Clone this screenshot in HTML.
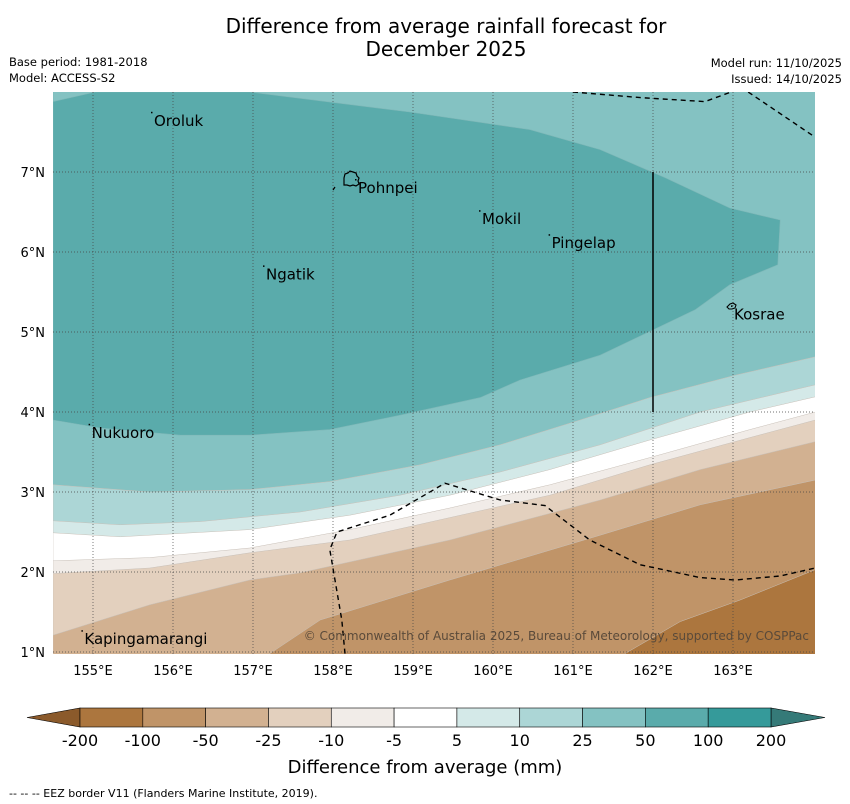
<!DOCTYPE html>
<html><head><meta charset="utf-8"><style>
body{margin:0;background:#fff;}
svg{display:block;font-family:"DejaVu Sans","Liberation Sans",sans-serif;}
</style></head><body>
<svg id="chart" width="850" height="804" xmlns="http://www.w3.org/2000/svg">
<text x="446" y="33" font-size="20" text-anchor="middle">Difference from average rainfall forecast for</text>
<text x="446" y="56" font-size="20" text-anchor="middle">December 2025</text>
<text x="9" y="66" font-size="11.5">Base period: 1981-2018</text>
<text x="9" y="82" font-size="11.5">Model: ACCESS-S2</text>
<text x="842" y="67" font-size="11.5" text-anchor="end">Model run: 11/10/2025</text>
<text x="842" y="83" font-size="11.5" text-anchor="end">Issued: 14/10/2025</text>
<defs><clipPath id="pc"><rect x="53" y="92" width="762" height="562"/></clipPath></defs>
<g id="map" clip-path="url(#pc)"></g>
<g id="over"></g>
<g id="cbar"></g>
<text x="425" y="773" font-size="18" text-anchor="middle">Difference from average (mm)</text>
<text x="9" y="797" font-size="11">--  --  -- EEZ border V11 (Flanders Marine Institute, 2019).</text>
</svg>
<script>
const lonTicks=[155,156,157,158,159,160,161,162,163];
const latTicks=[1,2,3,4,5,6,7];
const levelLabels=["-200","-100","-50","-25","-10","-5","5","10","25","50","100","200"];
const levelColors=["#ac763e","#c09468","#d2b191","#e3d0be","#f1ece8","#ffffff","#d4e9e8","#acd6d6","#84c2c2","#5aabab","#359a9a"];
const blob50=[[154.5,7.88],[155.03,8.0],[156.96,8.0],[158.96,7.75],[160.46,7.53],[161.34,7.28],[162.15,6.93],[162.96,6.55],[163.59,6.4],[163.56,5.84],[162.96,5.59],[162.53,5.28],[161.34,4.71],[160.34,4.4],[159.84,4.18],[158.84,3.96],[157.96,3.78],[156.96,3.71],[156.09,3.71],[155.09,3.8],[154.5,3.9]];
const b25=[[154.5,3.09],[155.71,3.0],[156.96,3.03],[157.96,3.13],[159.09,3.34],[160.09,3.59],[161.09,3.9],[161.96,4.18],[163.03,4.46],[164.03,4.69]];
const b10=[[154.5,2.64],[155.34,2.59],[156.34,2.63],[157.59,2.75],[158.84,2.96],[160.09,3.25],[161.34,3.59],[162.59,4.0],[164.03,4.34]];
const b5=[[154.5,2.49],[155.34,2.44],[156.96,2.53],[158.21,2.71],[159.46,2.96],[160.71,3.28],[161.96,3.65],[163.21,4.0],[164.03,4.19]];
const bm5=[[154.5,2.14],[155.71,2.18],[156.96,2.3],[158.21,2.53],[159.46,2.8],[160.71,3.09],[161.96,3.43],[163.21,3.78],[164.03,4.0]];
const bm10=[[154.5,1.98],[155.71,2.05],[156.96,2.24],[158.21,2.4],[159.46,2.68],[160.71,2.96],[161.96,3.34],[163.21,3.68],[164.03,3.9]];
const bm25=[[154.5,1.21],[155.71,1.59],[156.96,1.9],[157.59,1.99],[159.46,2.4],[161.34,2.9],[162.59,3.28],[164.03,3.63]];
const bm50=[[157.21,0.98],[157.84,1.4],[159.46,1.9],[161.34,2.46],[162.59,2.84],[164.03,3.15]];
const bm100=[[161.65,0.98],[162.34,1.38],[163.09,1.65],[164.03,2.03]];
const eezA=[[161.0,8.0],[161.84,7.93],[162.65,7.88],[163.03,8.02]];
const eezB=[[163.19,8.0],[163.99,7.46]];
const eezC=[[158.15,0.98],[158.11,1.4],[157.96,2.28],[158.05,2.5],[158.71,2.71],[159.4,3.11],[160.09,2.9],[160.65,2.83],[161.21,2.4],[161.84,2.09],[162.59,1.93],[163.03,1.9],[163.59,1.95],[164.03,2.05]];
const places=[["Oroluk",155.75,7.74],["Pohnpei",158.3,6.9],["Mokil",159.85,6.51],["Pingelap",160.72,6.21],["Ngatik",157.15,5.82],["Kosrae",163.0,5.32],["Nukuoro",154.97,3.84],["Kapingamarangi",154.88,1.26]];
const X=lon=>93+(lon-155)*80;
const Y=lat=>172+(7-lat)*80;
const NS="http://www.w3.org/2000/svg";
const map=document.getElementById('map'),over=document.getElementById('over'),cb=document.getElementById('cbar');
function mk(tag,attrs,parent){const e=document.createElementNS(NS,tag);for(const k in attrs)e.setAttribute(k,attrs[k]);parent.appendChild(e);return e;}
const pts=a=>a.map(p=>X(p[0]).toFixed(1)+","+Y(p[1]).toFixed(1)).join(" ");
let r=mk('rect',{x:53,y:92,width:762,height:562,fill:levelColors[8]},map);


let bl=mk('polygon',{points:pts(blob50)+" 53,92",fill:levelColors[9],stroke:"#7fb8b8","stroke-width":0.6},map);


const bands=[[b25,7,'band-10-25'],[b10,6,'band-5-10'],[b5,5,'band-neutral'],[bm5,4,'band-minus5-minus10'],[bm10,3,'band-minus10-minus25'],[bm25,2,'band-minus25-minus50'],[bm50,1,'band-minus50-minus100'],[bm100,0,'band-minus100-minus200']];
bands.forEach(b=>{
 const arr=b[0];const last=arr[arr.length-1],first=arr[0];
 const p=pts(arr)+" "+X(last[0]).toFixed(1)+",700 "+X(first[0]).toFixed(1)+",700";
 const e=mk('polygon',{points:p,fill:levelColors[b[1]],stroke:"#c8c0b8","stroke-width":0.5},map);
 
 
});
lonTicks.forEach(l=>{const e=mk('line',{x1:X(l),x2:X(l),y1:92,y2:654,stroke:"#444","stroke-width":0.7,"stroke-dasharray":"1,2"},map);
 
 
 const t=mk('text',{x:X(l),y:675,"font-size":13,"text-anchor":"middle"},over);t.textContent=l+"°E";
 
 });
latTicks.forEach(l=>{const e=mk('line',{x1:53,x2:815,y1:Y(l),y2:Y(l),stroke:"#444","stroke-width":0.7,"stroke-dasharray":"1,2"},map);
 
 
 const t=mk('text',{x:45,y:Y(l)+5,"font-size":13,"text-anchor":"end"},over);t.textContent=l+"°N";
 
 });
[eezA,eezB,eezC].forEach((a,i)=>{const e=mk('polyline',{points:pts(a),fill:"none",stroke:"#000","stroke-width":1.4,"stroke-dasharray":"5,4"},map);
 
 });
let vl=mk('line',{x1:X(162),x2:X(162),y1:Y(7),y2:Y(4),stroke:"#000","stroke-width":1.5},map);


let ip=mk('path',{d:"M344,178 l1,-4 l3,-1 l2,-2 l3,1 l3,1 l1,3 l2,2 l-1,3 l1,3 l-3,2 l-3,-1 l-3,1 l-3,-1 l-3,0 l0,-3 z M333,190 l2,-3",fill:"none",stroke:"#000","stroke-width":1.2},map);


let ik=mk('path',{d:"M727,307 l3,-3 l3,-1 l3,2 l-1,3 l-3,1 l-3,0 z",fill:"none",stroke:"#000","stroke-width":1.1},map);


places.forEach(p=>{
 const d=mk('rect',{x:X(p[1])-2,y:Y(p[2])-1,width:1.5,height:1.5,fill:"#000"},over);
 
 
 const t=mk('text',{x:X(p[1])+1,y:Y(p[2])+13,"font-size":15},over);t.textContent=p[0];
 
 
});
let cp=mk('text',{x:809,y:640,"font-size":12,"text-anchor":"end",fill:"#5a4a3a"},over);cp.textContent="© Commonwealth of Australia 2025, Bureau of Meteorology, supported by COSPPac";


const cx0=80,cx1=771,cy=708,ch=19,sw=(cx1-cx0)/levelColors.length;
let la=mk('polygon',{points:`27,${cy+ch/2} ${cx0},${cy} ${cx0},${cy+ch}`,fill:"#8b5a2b",stroke:"#000","stroke-width":0.6},cb);


let ra=mk('polygon',{points:`825,${cy+ch/2} ${cx1},${cy} ${cx1},${cy+ch}`,fill:"#357a78",stroke:"#000","stroke-width":0.6},cb);


levelColors.forEach((c,i)=>{const e=mk('rect',{x:cx0+i*sw,y:cy,width:sw,height:ch,fill:c,stroke:"#000","stroke-width":0.6},cb);
 
 });
levelLabels.forEach((l,i)=>{const t=mk('text',{x:cx0+i*sw,y:746,"font-size":16,"text-anchor":"middle"},cb);t.textContent=l;
 
 });
</script>
</body></html>
